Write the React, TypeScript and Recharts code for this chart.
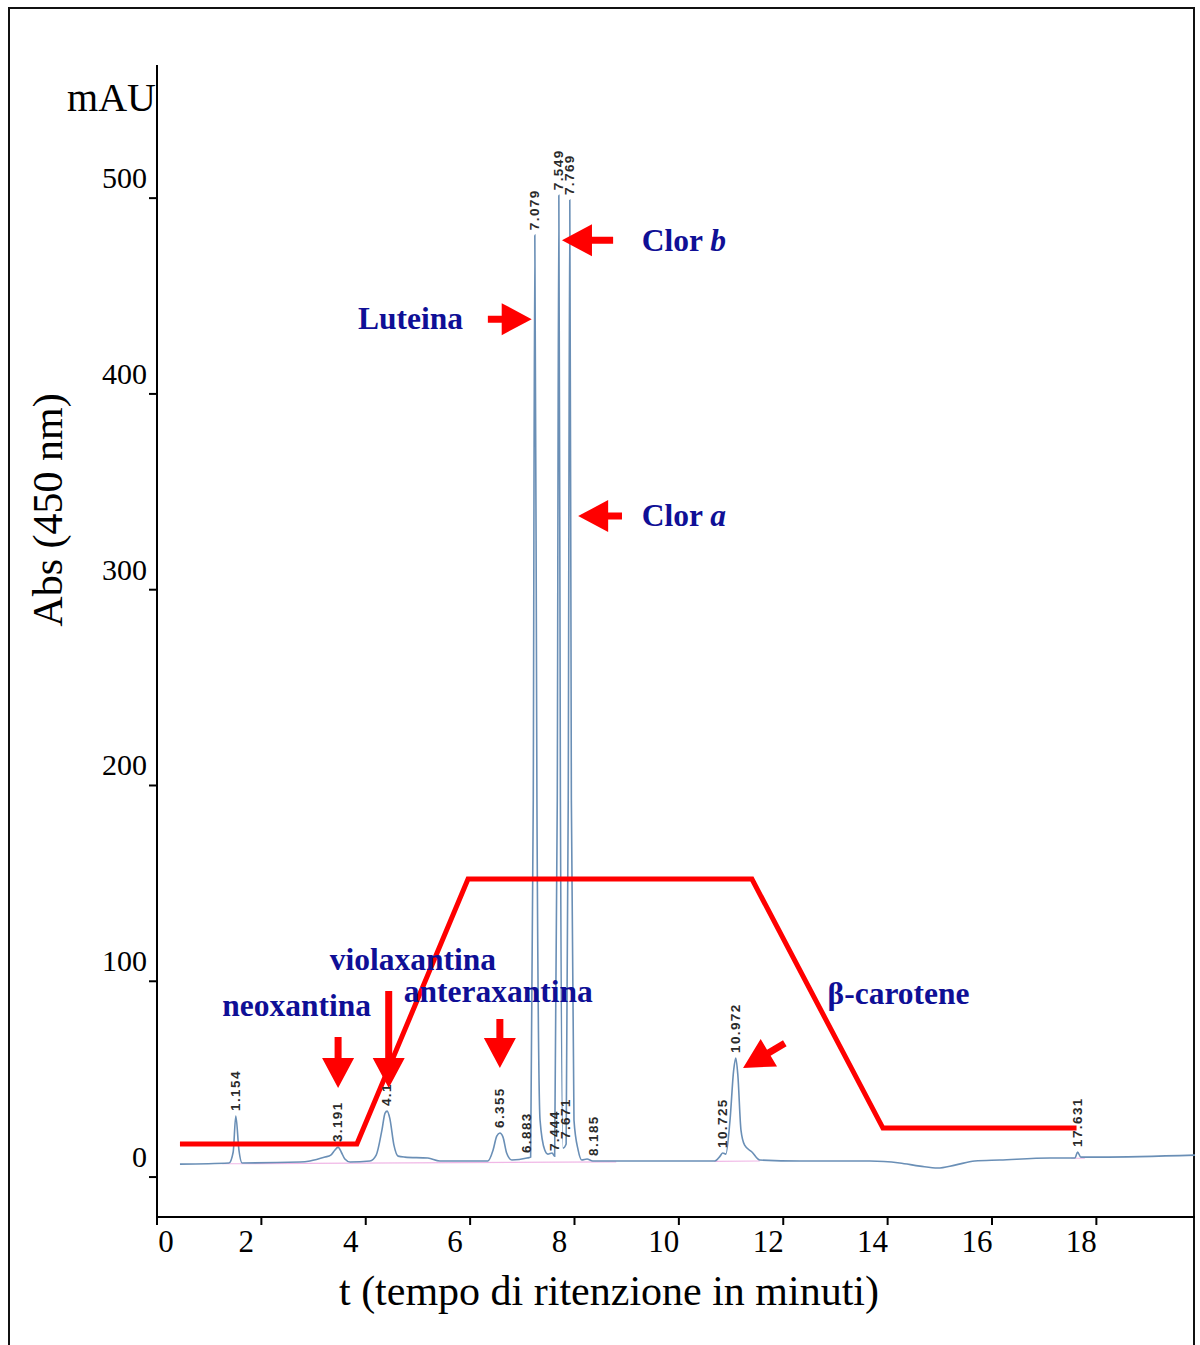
import { LineChart, Line, XAxis, YAxis, ReferenceLine, ReferenceDot } from "recharts";

// chromatogram trace (min, mAU)
const trace = [
  { x: 0.44, y: 6.6 }, { x: 1.38, y: 7.2 }, { x: 1.46, y: 12.8 }, { x: 1.51, y: 31.2 }, { x: 1.57, y: 13.8 }, { x: 1.63, y: 7.2 },
  { x: 2.74, y: 7.7 }, { x: 2.93, y: 8.2 }, { x: 3.22, y: 10.2 }, { x: 3.33, y: 11.2 }, { x: 3.41, y: 13.8 }, { x: 3.47, y: 15.3 },
  { x: 3.53, y: 12.8 }, { x: 3.6, y: 9.2 }, { x: 3.7, y: 7.7 },
  { x: 4.08, y: 8.2 }, { x: 4.2, y: 11.2 }, { x: 4.31, y: 24.0 }, { x: 4.37, y: 32.7 }, { x: 4.41, y: 33.7 }, { x: 4.46, y: 30.1 },
  { x: 4.54, y: 16.3 }, { x: 4.62, y: 10.7 }, { x: 4.75, y: 10.2 }, { x: 5.19, y: 9.7 }, { x: 5.42, y: 8.2 },
  { x: 6.0, y: 8.2 }, { x: 6.34, y: 8.2 }, { x: 6.44, y: 13.8 }, { x: 6.51, y: 20.9 }, { x: 6.57, y: 22.5 }, { x: 6.63, y: 20.4 },
  { x: 6.7, y: 12.3 }, { x: 6.8, y: 8.7 },
  { x: 7.09, y: 9.7 }, { x: 7.16, y: 10.2 }, { x: 7.21, y: 192.5 }, { x: 7.24, y: 481.1 }, { x: 7.28, y: 192.5 }, { x: 7.34, y: 29.1 },
  { x: 7.43, y: 13.8 }, { x: 7.49, y: 11.7 }, { x: 7.57, y: 12.3 }, { x: 7.62, y: 10.7 },
  { x: 7.67, y: 192.5 }, { x: 7.7, y: 501.5 }, { x: 7.73, y: 192.5 }, { x: 7.78, y: 14.8 }, { x: 7.84, y: 16.9 },
  { x: 7.88, y: 192.5 }, { x: 7.91, y: 499.0 }, { x: 7.94, y: 192.5 }, { x: 7.99, y: 29.1 }, { x: 8.07, y: 13.8 }, { x: 8.14, y: 8.7 },
  { x: 8.24, y: 9.2 }, { x: 8.35, y: 8.2 },
  { x: 9.44, y: 8.2 }, { x: 10.69, y: 8.2 }, { x: 10.79, y: 10.7 }, { x: 10.84, y: 12.3 }, { x: 10.9, y: 11.7 }, { x: 10.98, y: 29.1 },
  { x: 11.05, y: 54.6 }, { x: 11.09, y: 60.8 }, { x: 11.13, y: 52.1 }, { x: 11.19, y: 24.0 }, { x: 11.26, y: 16.3 }, { x: 11.4, y: 12.8 },
  { x: 11.55, y: 8.7 },
  { x: 12.32, y: 8.2 }, { x: 13.66, y: 8.2 }, { x: 14.23, y: 7.2 }, { x: 14.62, y: 5.6 }, { x: 14.96, y: 4.6 }, { x: 15.29, y: 6.1 },
  { x: 15.67, y: 8.2 }, { x: 16.15, y: 8.7 }, { x: 17.11, y: 9.7 }, { x: 17.59, y: 9.7 }, { x: 17.64, y: 12.8 }, { x: 17.7, y: 10.2 },
  { x: 18.07, y: 10.2 }, { x: 19.89, y: 11.2 },
];

// integration baselines (pink)
const baseline = [
  { x: 1.25, y: 6.8 }, { x: 8.8, y: 7.8 }, { x: 8.81, y: null },
  { x: 10.68, y: 8.0 }, { x: 11.55, y: 8.2 }, { x: 11.56, y: null },
  { x: 17.52, y: 9.6 }, { x: 17.78, y: 9.6 },
];

// solvent gradient overlay (red)
const gradient = [
  { x: 0.44, y: 16.9 }, { x: 3.83, y: 16.9 }, { x: 5.96, y: 152.2 },
  { x: 11.4, y: 152.2 }, { x: 13.91, y: 25.0 }, { x: 17.62, y: 25.0 },
];

// retention time labels on the peaks
const peakLabels = [
  { rt: "1.154", x: 1.51, y: 31.2 },
  { rt: "3.191", x: 3.47, y: 15.3 },
  { rt: "4.1", x: 4.41, y: 33.7 },
  { rt: "6.355", x: 6.57, y: 22.5 },
  { rt: "6.883", x: 7.09, y: 9.7 },
  { rt: "7.079", x: 7.24, y: 481.1 },
  { rt: "7.444", x: 7.62, y: 10.7 },
  { rt: "7.549", x: 7.7, y: 501.5 },
  { rt: "7.671", x: 7.84, y: 16.9 },
  { rt: "7.769", x: 7.91, y: 499.0 },
  { rt: "8.185", x: 8.37, y: 8.2 },
  { rt: "10.725", x: 10.84, y: 12.3 },
  { rt: "10.972", x: 11.09, y: 60.8 },
  { rt: "17.631", x: 17.64, y: 12.8 },
];

// compound names
const compoundLabels = [
  { name: "neoxantina", italic: "", x: 1.25, y: 82.2 },
  { name: "violaxantina", italic: "", x: 3.31, y: 105.7 },
  { name: "anteraxantina", italic: "", x: 4.73, y: 89.4 },
  { name: "Luteina", italic: "", x: 3.85, y: 433.1 },
  { name: "Clor ", italic: "b", x: 9.29, y: 472.9 },
  { name: "Clor ", italic: "a", x: 9.29, y: 332.5 },
  { name: "β-carotene", italic: "", x: 12.85, y: 88.4 },
];

// red arrows: tail -> tip
const arrows = [
  { x1: 3.47, y1: 71.5, x2: 3.47, y2: 45.5 },
  { x1: 4.44, y1: 95.0, x2: 4.44, y2: 45.5 },
  { x1: 6.57, y1: 80.7, x2: 6.57, y2: 55.7 },
  { x1: 6.34, y1: 438.2, x2: 7.18, y2: 438.2 },
  { x1: 8.74, y1: 478.5, x2: 7.76, y2: 478.5 },
  { x1: 8.91, y1: 337.6, x2: 8.07, y2: 337.6 },
  { x1: 12.03, y1: 68.4, x2: 11.23, y2: 55.7 },
];

const xTicks = [0, 2, 4, 6, 8, 10, 12, 14, 16, 18];
const yTicks = [0, 100, 200, 300, 400, 500];

const SERIF = '"Liberation Serif", "Times New Roman", serif';
const SANS = '"Liberation Sans", Arial, sans-serif';
const NAVY = "#0f0f96";
const RED = "#ff0000";

function YTick(props: any) {
  const { x, y, payload } = props;
  return (
    <text x={x} y={y - 10} textAnchor="end" fontFamily={SERIF} fontSize={30} fill="#000">
      {payload.value}
    </text>
  );
}

function XTick(props: any) {
  const { x, y, payload } = props;
  const dx = payload.value === 0 ? 9 : -15;
  return (
    <text x={x + dx} y={y + 25} textAnchor="middle" fontFamily={SERIF} fontSize={31} fill="#000">
      {payload.value}
    </text>
  );
}

function Arrow(props: any) {
  const { x1, y1, x2, y2 } = props;
  const dx = x2 - x1;
  const dy = y2 - y1;
  const len = Math.hypot(dx, dy) || 1;
  const ux = dx / len;
  const uy = dy / len;
  const nx = -uy;
  const ny = ux;
  const head = 30;
  const hh = 16;
  const sh = 3.5;
  const bx = x2 - ux * head;
  const by = y2 - uy * head;
  const pts = [
    [x1 + nx * sh, y1 + ny * sh],
    [bx + nx * sh, by + ny * sh],
    [bx + nx * hh, by + ny * hh],
    [x2, y2],
    [bx - nx * hh, by - ny * hh],
    [bx - nx * sh, by - ny * sh],
    [x1 - nx * sh, y1 - ny * sh],
  ];
  return <polygon points={pts.map((p) => p.join(",")).join(" ")} fill={RED} />;
}

export default function App() {
  return (
    <div style={{ position: "relative", width: 1200, height: 1345, overflow: "hidden", background: "#fff" }}>
      <style>{"body{margin:0}"}</style>
      <div
        style={{
          position: "absolute",
          left: 8,
          top: 7,
          width: 1187,
          height: 1360,
          border: "2px solid #111",
          boxSizing: "border-box",
        }}
      />
      <div style={{ position: "absolute", left: 0, top: 0 }}>
        <LineChart width={1200} height={1345} margin={{ top: 65, right: 5, bottom: 98, left: 97 }}>
          <XAxis
            dataKey="x"
            type="number"
            domain={[0, 19.89]}
            ticks={xTicks}
            tick={<XTick />}
            tickSize={8}
            axisLine={{ stroke: "#000", strokeWidth: 2 }}
            tickLine={{ stroke: "#000", strokeWidth: 2 }}
            height={30}
          />
          <YAxis
            type="number"
            domain={[-20.4, 568]}
            ticks={yTicks}
            tick={<YTick />}
            tickSize={8}
            axisLine={{ stroke: "#000", strokeWidth: 2 }}
            tickLine={{ stroke: "#000", strokeWidth: 2 }}
            width={60}
          />
          <Line
            data={baseline}
            dataKey="y"
            type="linear"
            stroke="#e47bd2"
            strokeWidth={1.2}
            strokeOpacity={0.55}
            dot={false}
            connectNulls={false}
            isAnimationActive={false}
          />
          <Line
            data={trace}
            dataKey="y"
            type="monotone"
            stroke="#6a8fb6"
            strokeWidth={1.6}
            dot={false}
            isAnimationActive={false}
          />
          <Line
            data={gradient}
            dataKey="y"
            type="linear"
            stroke={RED}
            strokeWidth={5}
            dot={false}
            isAnimationActive={false}
          />
          {peakLabels.map((p) => (
            <ReferenceDot
              key={p.rt + p.x}
              x={p.x}
              y={p.y}
              r={0}
              shape={(s: any) => (
                <text
                  transform={`translate(${s.cx + 4},${s.cy - 5}) rotate(-90)`}
                  fontFamily={SANS}
                  fontWeight="bold"
                  fontSize={13.5}
                  letterSpacing={1.4}
                  fill="#2a2a2a"
                >
                  {p.rt}
                </text>
              )}
            />
          ))}
          {arrows.map((a, i) => (
            <ReferenceLine
              key={"arrow" + i}
              segment={[
                { x: a.x1, y: a.y1 },
                { x: a.x2, y: a.y2 },
              ]}
              shape={(s: any) => <Arrow {...s} />}
            />
          ))}
          {compoundLabels.map((c, i) => (
            <ReferenceDot
              key={"lbl" + i}
              x={c.x}
              y={c.y}
              r={0}
              shape={(s: any) => (
                <text x={s.cx} y={s.cy} fontFamily={SERIF} fontWeight="bold" fontSize={31.5} fill={NAVY}>
                  {c.name}
                  {c.italic ? <tspan fontStyle="italic">{c.italic}</tspan> : null}
                </text>
              )}
            />
          ))}
        </LineChart>
      </div>
      <svg width={1200} height={1345} style={{ position: "absolute", left: 0, top: 0, pointerEvents: "none" }}>
        <text x={156} y={111} textAnchor="end" fontFamily={SERIF} fontSize={40} fill="#000">
          mAU
        </text>
        <text
          transform="translate(62,510) rotate(-90)"
          textAnchor="middle"
          fontFamily={SERIF}
          fontSize={42}
          fill="#000"
        >
          Abs (450 nm)
        </text>
        <text x={609} y={1305} textAnchor="middle" fontFamily={SERIF} fontSize={42} fill="#000">
          t (tempo di ritenzione in minuti)
        </text>
      </svg>
    </div>
  );
}
